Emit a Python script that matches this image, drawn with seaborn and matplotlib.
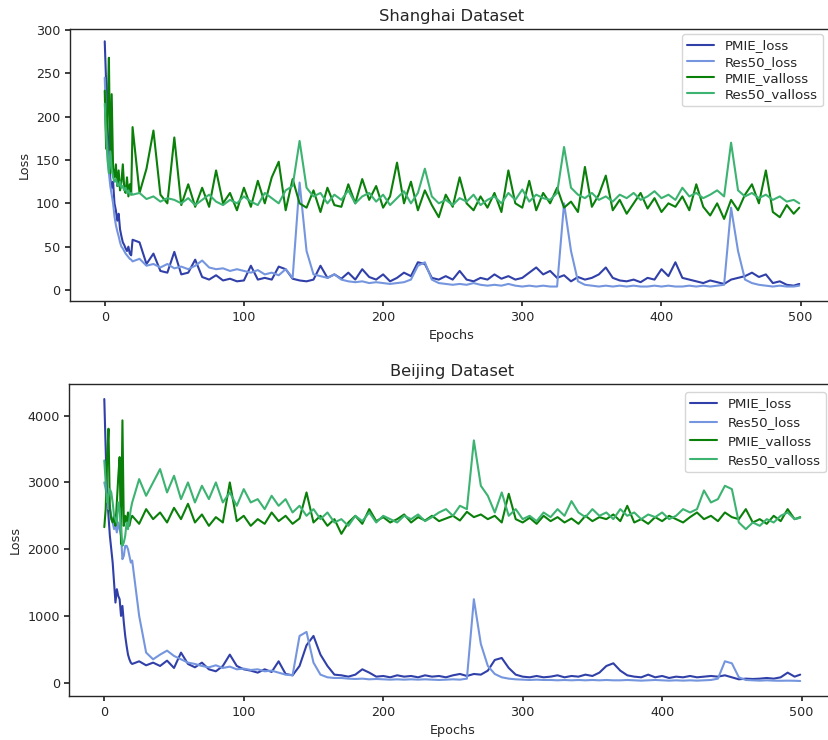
import numpy as np
import pandas as pd
import seaborn as sns
import matplotlib
matplotlib.use("Agg")
import matplotlib.pyplot as plt

sns.set_theme(style="ticks", rc={
    "xtick.major.size": 3.5, "ytick.major.size": 3.5,
    "xtick.labelsize": 9.2, "ytick.labelsize": 9.2,
    "axes.labelsize": 9.2, "axes.titlesize": 11.7,
    "axes.linewidth": 1.0,
})
plt.rcParams["font.family"] = ["DejaVu Sans"]

# epochs: every epoch for the first 20, then every 5th
epochs = list(range(0, 20)) + list(range(20, 500, 5)) + [499]

series_names = ["PMIE_loss", "Res50_loss", "PMIE_valloss", "Res50_valloss"]
colors = ["#3040a8", "#7596de", "#0a800a", "#3cb371"]

# ---------- Shanghai ----------
sh_pmie_loss = [
    287, 240, 190, 150, 128, 118, 125, 100, 92, 80, 88, 70, 62, 55, 52, 48, 45, 50, 42, 40,
    58, 55, 30, 42, 22, 20, 44, 18, 20, 35,
    15, 12, 17, 11, 13, 10, 11, 28, 12, 14,
    12, 27, 24, 13, 11, 10, 12, 28, 14, 18,
    13, 20, 12, 24, 15, 12, 18, 10, 14, 20,
    16, 32, 30, 14, 12, 16, 12, 22, 12, 10,
    14, 12, 18, 13, 16, 12, 14, 20, 26, 18,
    22, 14, 17, 10, 15, 12, 14, 18, 26, 14,
    11, 10, 12, 9, 14, 12, 24, 16, 32, 14,
    12, 10, 8, 11, 9, 7, 12, 14, 16, 20,
    15, 18, 8, 10, 6, 5, 7,
]
sh_res50_loss = [
    245, 200, 160, 135, 120, 110, 100, 85, 75, 68, 62, 55, 50, 48, 45, 42, 40, 38, 36, 35,
    33, 36, 28, 30, 26, 30, 25, 27, 24, 28,
    34, 26, 24, 25, 22, 24, 22, 20, 23, 18,
    20, 17, 24, 14, 124, 45, 18, 16, 14, 18,
    12, 10, 9, 10, 8, 9, 8, 7, 8, 9,
    12, 28, 32, 12, 8, 7, 6, 7, 6, 8,
    6, 5, 6, 5, 7, 5, 4, 5, 4, 5,
    4, 4, 100, 45, 10, 6, 5, 4, 5, 4,
    5, 4, 5, 4, 4, 5, 4, 5, 4, 4,
    5, 4, 5, 4, 5, 6, 95, 45, 12, 8,
    6, 5, 4, 5, 4, 4, 5,
]
sh_pmie_val = [
    230, 163, 205, 268, 135, 226, 140, 130, 145, 120, 138, 115, 125, 145, 118, 112, 130, 108, 122, 110,
    188, 112, 140, 184, 110, 100, 176, 98, 122, 96,
    118, 96, 138, 100, 112, 92, 118, 96, 126, 100,
    130, 148, 92, 128, 100, 95, 115, 90, 118, 98,
    96, 122, 100, 128, 104, 120, 95, 108, 147, 100,
    125, 92, 115, 98, 84, 110, 96, 130, 100, 92,
    108, 95, 112, 90, 138, 100, 95, 126, 92, 112,
    100, 118, 95, 102, 90, 142, 96, 110, 132, 92,
    104, 88, 100, 112, 94, 106, 90, 100, 96, 108,
    92, 122, 96, 86, 100, 82, 104, 92, 110, 122,
    100, 138, 90, 84, 98, 88, 95,
]
sh_res50_val = [
    215, 180, 150, 135, 160, 140, 130, 125, 128, 122, 120, 125, 118, 120, 115, 118, 112, 115, 110, 112,
    110, 112, 105, 108, 102, 106, 104, 100, 106, 98,
    104, 110, 102, 98, 104, 100, 108, 102, 98, 112,
    106, 100, 115, 120, 172, 118, 108, 112, 100, 110,
    104, 115, 100, 108, 112, 102, 110, 98, 106, 114,
    100, 112, 140, 108, 100, 104, 98, 106, 102, 110,
    98, 104, 108, 100, 112, 104, 116, 102, 110, 106,
    104, 112, 165, 118, 110, 106, 112, 104, 108, 102,
    110, 106, 112, 104, 108, 114, 106, 110, 104, 118,
    108, 112, 106, 110, 115, 108, 170, 115, 108, 112,
    106, 110, 104, 108, 102, 104, 100,
]

# ---------- Beijing ----------
bj_pmie_loss = [
    4250, 3500, 2800, 2500, 2200, 2000, 1800, 1500, 1200, 1400, 1300, 1250, 1000, 1150, 900, 700, 550, 420, 350, 300,
    280, 320, 260, 300, 250, 330, 220, 450, 280, 230,
    300, 200, 170, 250, 420, 250, 200, 180, 150, 200,
    160, 320, 130, 110, 250, 560, 700, 420, 250, 120,
    110, 90, 120, 200, 150, 90, 100, 80, 110, 90,
    100, 80, 110, 90, 100, 80, 110, 130, 100, 130,
    120, 180, 340, 370, 220, 120, 90, 80, 100, 80,
    90, 110, 80, 100, 90, 120, 100, 150, 250, 290,
    180, 110, 90, 80, 120, 80, 100, 70, 90, 80,
    100, 80, 90, 100, 90, 110, 80, 50, 60, 55,
    60, 70, 60, 80, 150, 90, 120,
]
bj_res50_loss = [
    3000, 2900, 2750, 2600, 2650, 2500, 2400, 2300, 2350, 2250, 2400, 2300, 2200, 1850, 1900, 2050, 2050, 2000, 1900, 1800,
    1830, 1000, 450, 350, 420, 480, 400, 350, 300, 280,
    250, 230, 260, 220, 240, 200, 210, 190, 200, 170,
    180, 150, 120, 110, 700, 760, 300, 120, 80, 70,
    70, 60, 55, 60, 50, 55, 50, 45, 50, 45,
    50, 45, 50, 45, 40, 45, 50, 45, 60, 1250,
    580, 250, 130, 80, 60, 50, 45, 40, 45, 40,
    40, 35, 40, 35, 40, 35, 40, 35, 40, 35,
    35, 40, 35, 30, 35, 40, 35, 30, 35, 30,
    35, 30, 35, 40, 60, 320, 290, 80, 40, 35,
    30, 35, 30, 28, 30, 28, 25,
]
bj_pmie_val = [
    2330, 2600, 3330, 3805, 2600, 2450, 2400, 2500, 2350, 2700, 3080, 3380, 2080, 3930, 2350, 2500, 2400, 2550, 2350, 2450,
    2500, 2380, 2600, 2450, 2550, 2400, 2620, 2450, 2680, 2400,
    2520, 2350, 2480, 2400, 3000, 2420, 2500, 2350, 2450, 2380,
    2550, 2420, 2500, 2380, 2460, 2850, 2400, 2500, 2350, 2450,
    2230, 2400, 2500, 2380, 2600, 2420, 2480, 2400, 2450, 2520,
    2400, 2480, 2430, 2500, 2420, 2460, 2500, 2430, 2560, 2480,
    2520, 2450, 2500, 2400, 2830, 2450, 2400, 2470, 2380, 2500,
    2420, 2480, 2400, 2460, 2380, 2500, 2420, 2480, 2450, 2520,
    2420, 2650, 2400, 2450, 2380, 2480, 2420, 2500, 2450, 2400,
    2480, 2550, 2450, 2500, 2420, 2550, 2480, 2450, 2600, 2400,
    2450, 2380, 2500, 2420, 2600, 2450, 2480,
]
bj_res50_val = [
    3330, 3000, 2700, 2800, 2900, 2850, 2700, 2500, 2450, 2400, 2700, 2600, 2300, 2050, 2100, 2200, 2400, 2300, 2450, 2600,
    2700, 3050, 2800, 3000, 3200, 2850, 3100, 2750, 3000, 2700,
    2950, 2750, 3000, 2700, 2850, 2650, 2900, 2700, 2750, 2600,
    2800, 2650, 2750, 2550, 2650, 2500, 2600, 2450, 2550, 2400,
    2450, 2350, 2500, 2420, 2550, 2400, 2500, 2450, 2400, 2500,
    2450, 2520, 2420, 2480, 2550, 2600, 2500, 2650, 2600, 3630,
    2950, 2800, 2550, 2850, 2500, 2600, 2450, 2500, 2420, 2550,
    2480, 2600, 2500, 2720, 2550, 2480, 2600, 2500, 2550, 2450,
    2600, 2500, 2550, 2450, 2520, 2480, 2550, 2450, 2500, 2600,
    2550, 2600, 2880, 2700, 2750, 2950, 2900, 2400, 2300, 2400,
    2350, 2450, 2400, 2500, 2550, 2450, 2470,
]

W, H = 829, 740
fig = plt.figure(figsize=(W / 100, H / 100), dpi=100)


def px_axes(left, top, right, bottom):
    return fig.add_axes([left / W, 1 - bottom / H, (right - left) / W, (bottom - top) / H])


panels = [
    ("Shanghai Dataset", [sh_pmie_loss, sh_res50_loss, sh_pmie_val, sh_res50_val],
     (70, 29, 834, 301), (-12.7, 301.2), (823, 34), 0.24),
    ("Beijing Dataset", [bj_pmie_loss, bj_res50_loss, bj_pmie_val, bj_res50_val],
     (69.5, 384, 835, 696), (-200, 4475), (826, 392), 0.44),
]

for title, data, box, ylim, leg_xy, lspace in panels:
    ax = px_axes(*box)
    for name, vals, col in zip(series_names, data, colors):
        sns.lineplot(x=epochs, y=vals, ax=ax, color=col, label=name, linewidth=1.5)
    ax.set_xlim(-24.95, 523.95)
    ax.set_ylim(*ylim)
    ax.set_title(title)
    ax.set_xlabel("Epochs")
    ax.set_ylabel("Loss")
    ax.legend(loc="upper right", bbox_to_anchor=(leg_xy[0] / W, 1 - leg_xy[1] / H),
              bbox_transform=fig.transFigure, borderaxespad=0, fontsize=9.6,
              labelspacing=lspace, frameon=True, fancybox=True, framealpha=0.8,
              edgecolor="#cccccc")

fig.savefig("out.png", dpi=100)
